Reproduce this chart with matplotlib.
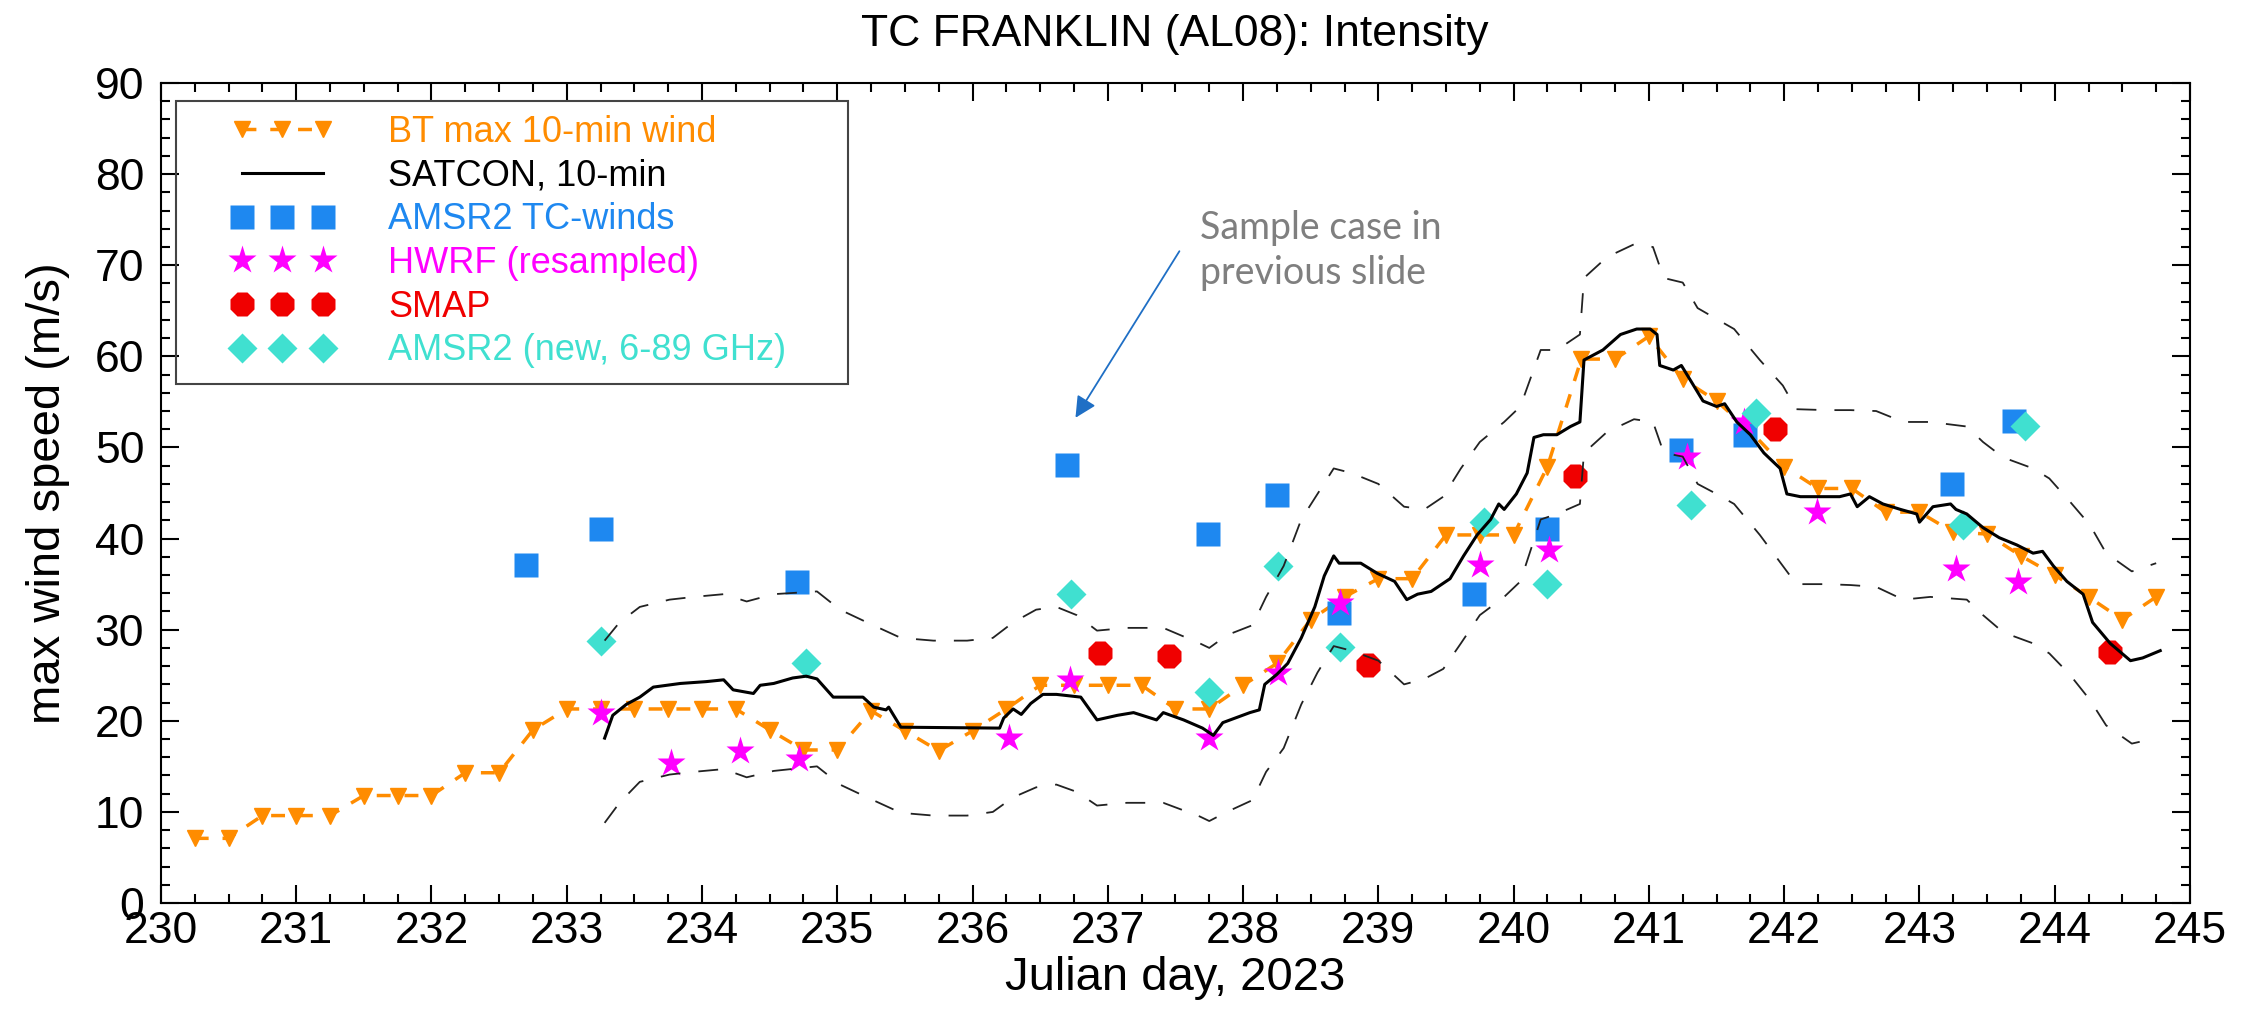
import matplotlib
matplotlib.use("Agg")
import matplotlib.pyplot as plt
from matplotlib.patches import Rectangle
from matplotlib.ticker import MultipleLocator

plt.rcParams['font.family'] = ['Liberation Sans', 'DejaVu Sans']

# Best track max 10-min wind (6-hourly)
bt_day = [230.25, 230.5, 230.75, 231.0, 231.25, 231.5, 231.75, 232.0, 232.25, 232.5,
          232.75, 233.0, 233.25, 233.5, 233.75, 234.0, 234.25, 234.5, 234.75, 235.0,
          235.25, 235.5, 235.75, 236.0, 236.25, 236.5, 236.75, 237.0, 237.25, 237.5,
          237.75, 238.0, 238.25, 238.5, 238.75, 239.0, 239.25, 239.5, 239.75, 240.0,
          240.25, 240.5, 240.75, 241.0, 241.25, 241.5, 241.75, 242.0, 242.25, 242.5,
          242.75, 243.0, 243.25, 243.5, 243.75, 244.0, 244.25, 244.5, 244.75]
bt_wind = [7.1, 7.1, 9.6, 9.6, 9.6, 11.8, 11.8, 11.8, 14.3, 14.3,
           19.0, 21.3, 21.3, 21.3, 21.3, 21.3, 21.3, 19.0, 16.8, 16.8,
           21.1, 18.9, 16.7, 18.9, 21.3, 23.9, 23.9, 23.9, 23.9, 21.3,
           21.3, 23.9, 26.3, 31.1, 33.6, 35.6, 35.6, 40.4, 40.4, 40.4,
           47.9, 59.7, 59.7, 62.2, 57.5, 55.1, 51.8, 47.9, 45.5, 45.5,
           42.9, 42.9, 40.7, 40.5, 38.1, 36.0, 33.6, 31.1, 33.6]

# SATCON 10-min estimate
sat_day = [233.28, 233.34, 233.44, 233.54, 233.64, 233.84, 234.03, 234.16, 234.23, 234.38,
           234.43, 234.53, 234.67, 234.77, 234.85, 234.97, 235.19, 235.27, 235.36, 235.38,
           235.47, 236.20, 236.23, 236.30, 236.36, 236.43, 236.52, 236.62, 236.80, 236.92,
           237.07, 237.19, 237.36, 237.41, 237.56, 237.70, 237.78, 237.85, 238.05, 238.12,
           238.16, 238.25, 238.33, 238.43, 238.53, 238.60, 238.67, 238.71, 238.87, 238.99,
           239.12, 239.21, 239.29, 239.39, 239.53, 239.63, 239.73, 239.83, 239.89, 239.93,
           240.02, 240.10, 240.15, 240.22, 240.32, 240.42, 240.49, 240.52, 240.66, 240.79,
           240.91, 241.01, 241.06, 241.08, 241.18, 241.24, 241.31, 241.40, 241.50, 241.56,
           241.65, 241.75, 241.85, 241.97, 242.02, 242.12, 242.41, 242.49, 242.54, 242.63,
           242.73, 242.86, 242.98, 243.00, 243.10, 243.23, 243.27, 243.35, 243.47, 243.59,
           243.72, 243.84, 243.91, 243.99, 244.09, 244.21, 244.28, 244.41, 244.56, 244.65,
           244.78]
sat_wind = [18.1, 20.6, 21.8, 22.6, 23.7, 24.1, 24.3, 24.5, 23.4, 23.0,
            23.9, 24.1, 24.7, 24.9, 24.6, 22.6, 22.6, 21.5, 21.2, 21.5,
            19.3, 19.2, 20.3, 21.3, 20.7, 21.9, 22.9, 22.9, 22.6, 20.1,
            20.6, 20.9, 20.1, 20.9, 20.1, 19.2, 18.4, 19.8, 20.9, 21.2,
            24.0, 25.1, 26.3, 29.1, 32.5, 35.9, 38.1, 37.3, 37.3, 36.2,
            35.3, 33.3, 33.9, 34.2, 35.6, 38.1, 40.4, 42.1, 43.8, 43.2,
            44.9, 47.2, 51.1, 51.4, 51.4, 52.3, 52.8, 59.6, 60.7, 62.4,
            63.0, 63.0, 62.4, 59.0, 58.5, 59.0, 57.3, 55.1, 54.5, 54.8,
            52.8, 51.4, 49.4, 47.7, 44.9, 44.6, 44.6, 44.9, 43.5, 44.6,
            43.8, 43.2, 42.7, 41.8, 43.5, 43.8, 43.2, 42.7, 41.2, 40.1,
            39.3, 38.4, 38.6, 37.0, 35.3, 33.9, 30.8, 28.5, 26.6, 26.9,
            27.7]

# SATCON uncertainty envelope
env_day = [233.28, 233.39, 233.54, 233.76, 233.94, 234.16, 234.33, 234.53, 234.85, 235.02,
           235.22, 235.47, 235.71, 235.96, 236.15, 236.30, 236.47, 236.62, 236.77, 236.92,
           237.14, 237.41, 237.68, 237.75, 237.88, 238.07, 238.17, 238.30, 238.43, 238.55,
           238.67, 238.80, 239.00, 239.19, 239.34, 239.48, 239.61, 239.75, 239.93, 240.05,
           240.20, 240.32, 240.49, 240.52, 240.69, 240.89, 241.03, 241.11, 241.25, 241.36,
           241.50, 241.63, 241.82, 241.99, 242.09, 242.31, 242.49, 242.68, 242.88, 243.08,
           243.35, 243.47, 243.62, 243.84, 243.96, 244.11, 244.26, 244.38, 244.57, 244.75]
env_upper = [28.8, 30.8, 32.5, 33.3, 33.6, 33.9, 33.1, 33.9, 34.2, 32.2,
             30.8, 29.1, 28.8, 28.8, 29.1, 30.8, 32.2, 32.5, 31.6, 29.9,
             30.2, 30.2, 28.5, 28.0, 29.4, 30.5, 33.6, 37.0, 42.1, 44.9,
             47.7, 47.2, 46.0, 43.5, 43.2, 44.6, 47.7, 50.6, 52.8, 54.5,
             60.7, 60.7, 62.4, 68.6, 70.9, 72.3, 72.0, 68.6, 68.1, 65.3,
             64.1, 63.0, 59.6, 56.8, 54.2, 54.1, 54.1, 54.0, 52.8, 52.8,
             52.3, 50.6, 48.9, 47.7, 46.6, 44.1, 41.5, 38.4, 36.4, 37.3]
env_lower = [8.8, 11.0, 13.3, 14.1, 14.4, 14.7, 13.8, 14.5, 15.0, 13.0,
             11.6, 9.9, 9.6, 9.6, 10.0, 11.6, 12.7, 13.0, 12.2, 10.7,
             11.0, 11.0, 9.5, 9.0, 10.0, 11.3, 14.4, 17.0, 21.8, 25.3,
             28.2, 27.7, 26.6, 24.0, 24.6, 25.7, 28.5, 31.6, 33.6, 35.3,
             42.1, 42.7, 43.8, 49.4, 51.7, 53.1, 52.8, 49.4, 49.0, 46.0,
             44.9, 43.8, 40.4, 37.0, 35.0, 35.0, 34.9, 34.7, 33.3, 33.6,
             33.3, 31.6, 29.7, 28.5, 27.4, 25.1, 22.3, 19.5, 17.5, 18.1]

# AMSR2 TC-winds
amsr_day = [232.70, 233.25, 234.70, 236.70, 237.74, 238.25, 238.71, 239.71, 240.25,
            241.24, 241.71, 243.24, 243.70]
amsr_wind = [37.1, 41.1, 35.2, 48.1, 40.5, 44.8, 31.8, 33.9, 41.1,
             49.7, 51.4, 46.0, 52.9]

# HWRF (resampled)
hwrf_day = [233.25, 233.77, 234.28, 234.72, 236.27, 236.72, 237.75, 238.26, 238.72,
            239.75, 240.26, 241.28, 241.70, 242.24, 243.27, 243.73]
hwrf_wind = [20.9, 15.4, 16.7, 15.8, 18.1, 24.5, 18.1, 25.2, 32.9,
             37.1, 38.7, 49.0, 52.8, 42.9, 36.7, 35.2]

# SMAP
smap_day = [236.94, 237.45, 238.92, 240.45, 241.93, 244.41]
smap_wind = [27.4, 27.1, 26.1, 46.9, 52.0, 27.5]

# AMSR2 new retrieval (6-89 GHz)
new_day = [233.25, 234.77, 236.73, 237.75, 238.26, 238.72, 239.78, 240.25, 241.31,
           241.79, 243.32, 243.78]
new_wind = [28.8, 26.3, 33.9, 23.2, 37.0, 28.1, 41.8, 35.0, 43.7,
            53.8, 41.5, 52.4]

ORANGE = '#FF8C00'
BLUE = '#1E88F0'
MAGENTA = '#FF00FF'
RED = '#F00000'
TURQ = '#40E0D0'

fig = plt.figure(figsize=(22.54, 10.10), dpi=100)
ax = fig.add_axes([0.0714, 0.1059, 0.9002, 0.8119])

ax.plot(bt_day, bt_wind, color=ORANGE, lw=2.5, ls=(0, (4, 4)), marker='v', ms=11,
        mec=ORANGE, label='BT max 10-min wind', zorder=3)
ax.plot(amsr_day, amsr_wind, ls='none', marker='s', ms=17.5, color=BLUE, mec='none',
        label='AMSR2 TC-winds', zorder=4)
ax.plot(hwrf_day, hwrf_wind, ls='none', marker='*', ms=21, color=MAGENTA, mec='none',
        label='HWRF (resampled)', zorder=5)
ax.plot(smap_day, smap_wind, ls='none', marker='8', ms=18, color=RED, mec='none',
        label='SMAP', zorder=5)
ax.plot(new_day, new_wind, ls='none', marker='D', ms=15, color=TURQ, mec='none',
        label='AMSR2 (new, 6-89 GHz)', zorder=5)
ax.plot(sat_day, sat_wind, color='black', lw=2.2, label='SATCON, 10-min', zorder=6)
ax.plot(env_day, env_upper, color='#222222', lw=1.3, ls=(0, (11, 10)), zorder=6)
ax.plot(env_day, env_lower, color='#222222', lw=1.3, ls=(0, (11, 10)), zorder=6)

ax.set_xlim(230, 245)
ax.set_ylim(0, 90)
ax.xaxis.set_major_locator(MultipleLocator(1))
ax.xaxis.set_minor_locator(MultipleLocator(0.25))
ax.yaxis.set_major_locator(MultipleLocator(10))
ax.yaxis.set_minor_locator(MultipleLocator(2))
ax.tick_params(which='both', direction='in', top=True, right=True, width=1.5, colors='black')
ax.tick_params(which='major', length=13)
ax.tick_params(which='minor', length=6.5)
ax.tick_params(axis='x', labelsize=32, pad=6)
ax.tick_params(axis='y', labelsize=32, pad=12)
for sp in ax.spines.values():
    sp.set_linewidth(1.5)

ax.set_xlabel('Julian day, 2023', fontsize=34)
ax.set_ylabel('max wind speed (m/s)', fontsize=34)
ax.xaxis.set_label_coords(0.5, -0.065)
ax.yaxis.set_label_coords(-0.045, 0.5)
fig.text(0.5213, 0.9545, 'TC FRANKLIN (AL08): Intensity', fontsize=32,
         ha='center', va='baseline')

# legend in IDL order, with coloured labels and a separate frame
handles, labels = ax.get_legend_handles_labels()
order = [0, 5, 1, 2, 3, 4]
leg = ax.legend([handles[i] for i in order], [labels[i] for i in order],
                loc='upper left', bbox_to_anchor=(0.0345, 0.961), borderaxespad=0,
                borderpad=0, frameon=False, fontsize=26, numpoints=3,
                handlelength=2.85, handletextpad=1.5, labelspacing=0.24)
for txt, c in zip(leg.get_texts(), [ORANGE, 'black', BLUE, MAGENTA, RED, TURQ]):
    txt.set_color(c)
ax.add_patch(Rectangle((0.0073, 0.6333), 0.3313, 0.3445, transform=ax.transAxes,
                       fill=False, edgecolor='#444444', lw=1.5, zorder=7))

ax.annotate('', xy=(236.75, 53.0), xytext=(237.54, 71.8),
            arrowprops=dict(arrowstyle='-|>', color='#1F6FC5', lw=1.3, mutation_scale=32))
ax.text(237.68, 71.6, 'Sample case in\nprevious slide', fontsize=27, family=['Lato', 'DejaVu Sans'],
        color='#7F7F7F', ha='left', va='center', linespacing=1.3)

fig.savefig('out.png', dpi=100)
